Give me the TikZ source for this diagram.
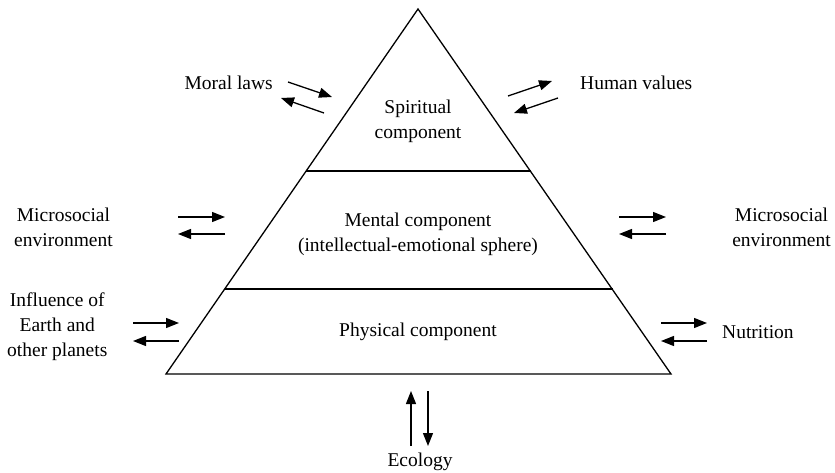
\documentclass[tikz,border=0pt]{standalone}
\usepackage{fontspec}
\setmainfont{Liberation Serif}
\usetikzlibrary{arrows.meta}
\begin{document}
\begin{tikzpicture}[x=1pt,y=-1pt,
  lbl/.style={font=\fontsize{19.5}{25}\selectfont, align=center, inner sep=0pt},
  edge/.style={line width=1.3pt},
  arr/.style={line width=1.3pt, -{Triangle[length=13pt,width=10pt]}}]
\useasboundingbox (0,0) rectangle (835,473);
% triangle
\coordinate (apex) at (418,9);
\coordinate (bl) at (166,374);
\coordinate (br) at (671,374);
\draw[edge, line join=miter] (apex) -- (br) -- (bl) -- cycle;
\coordinate (l1a) at (306,171); \coordinate (l1b) at (531,171);
\coordinate (l2a) at (225,289); \coordinate (l2b) at (613,289);
\draw[edge] (l1a) -- (l1b);
\draw[edge] (l2a) -- (l2b);
% inner texts
\node[lbl] (spirit) at (418,121) {Spiritual\\component};
\node[lbl] (mental) at (418,234) {Mental component\\(intellectual-emotional sphere)};
\node[lbl] (phys) at (418,332) {Physical component};
% outer texts
\node[lbl, anchor=east] (moral) at (273,83) {Moral laws};
\node[lbl, anchor=west] (human) at (580,83) {Human values};
\node[lbl, anchor=west] (micL) at (14,227) {Microsocial\\environment};
\node[lbl, anchor=east] (micR) at (831,227) {Microsocial\\environment};
\node[lbl, anchor=west] (infl) at (7,327) {Influence of\\Earth and\\other planets};
\node[lbl, anchor=west] (nutr) at (722,332) {Nutrition};
\node[lbl] (eco) at (420,462) {Ecology};
% arrow endpoints
\coordinate (a1s) at (288,82);  \coordinate (a1e) at (332,97);
\coordinate (a2s) at (324,113); \coordinate (a2e) at (281,98);
\coordinate (b1s) at (508,96);  \coordinate (b1e) at (552,81);
\coordinate (b2s) at (558,98);  \coordinate (b2e) at (514,113);
\coordinate (c1s) at (178,217); \coordinate (c1e) at (225,217);
\coordinate (c2s) at (225,234); \coordinate (c2e) at (178,234);
\coordinate (d1s) at (619,217); \coordinate (d1e) at (666,217);
\coordinate (d2s) at (666,234); \coordinate (d2e) at (619,234);
\coordinate (e1s) at (133,323); \coordinate (e1e) at (179,323);
\coordinate (e2s) at (179,341); \coordinate (e2e) at (133,341);
\coordinate (f1s) at (661,323); \coordinate (f1e) at (707,323);
\coordinate (f2s) at (707,341); \coordinate (f2e) at (661,341);
\coordinate (g1s) at (411,446); \coordinate (g1e) at (411,391);
\coordinate (g2s) at (428,391); \coordinate (g2e) at (428,446);
\foreach \p in {a,b,c,d,e,f,g}{
  \draw[arr] (\p1s) -- (\p1e);
  \draw[arr] (\p2s) -- (\p2e);
}
\end{tikzpicture}
\end{document}
